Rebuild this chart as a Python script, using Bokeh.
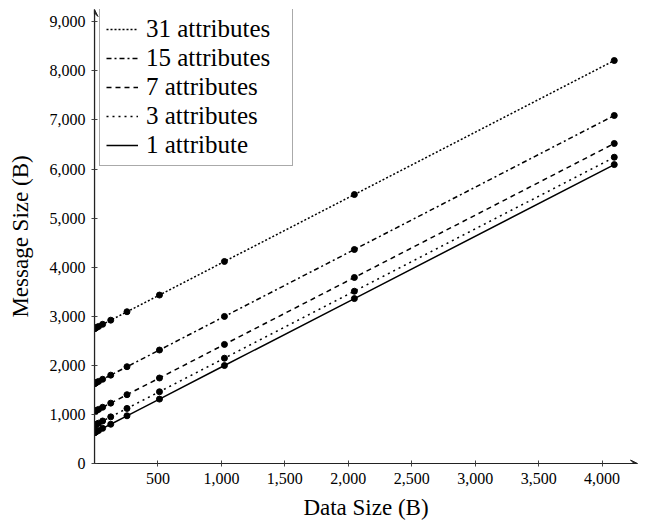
from bokeh.plotting import figure
from bokeh.embed import file_html
from bokeh.resources import INLINE
from bokeh.models import (Range1d, Legend, LegendItem, Arrow, VeeHead,
                          NumeralTickFormatter, FixedTicker)

data_size = [1, 2, 4, 8, 16, 32, 64, 128, 256, 512, 1024, 2048, 4096]
attr_31 = [2750, 2752, 2754, 2760, 2772, 2792, 2836, 2920, 3092, 3432, 4116, 5480, 8210]
attr_15 = [1630, 1632, 1634, 1640, 1652, 1672, 1716, 1800, 1972, 2312, 2996, 4360, 7090]
attr_7 = [1060, 1062, 1064, 1070, 1082, 1102, 1146, 1230, 1402, 1742, 2426, 3790, 6520]
attr_3 = [780, 782, 784, 790, 802, 822, 866, 950, 1122, 1462, 2146, 3510, 6240]
attr_1 = [630, 632, 634, 640, 652, 672, 716, 800, 972, 1312, 1996, 3360, 6090]

series_labels = ["31 attributes", "15 attributes", "7 attributes", "3 attributes", "1 attribute"]
series_values = [attr_31, attr_15, attr_7, attr_3, attr_1]
series_dash = ["2 2", "5 3 2 3", "5 4", "2 4", "solid"]

x_ticks = [500, 1000, 1500, 2000, 2500, 3000, 3500, 4000]
y_ticks = [0, 1000, 2000, 3000, 4000, 5000, 6000, 7000, 8000, 9000]

X_MAX = 4279
Y_MAX = 9250
FONT = "Liberation Serif"

p = figure(width=640, height=522, output_backend="svg", toolbar_location=None,
           x_range=Range1d(0, X_MAX), y_range=Range1d(0, Y_MAX),
           min_border_left=94, min_border_right=3, min_border_top=9,
           min_border_bottom=59)
p.outline_line_color = None
p.grid.visible = False
p.background_fill_color = "white"

for ax in (p.xaxis[0], p.yaxis[0]):
    ax.major_label_text_font = FONT
    ax.major_label_text_font_size = "16px"
    ax.major_label_text_color = "black"
    ax.axis_label_text_font = FONT
    ax.axis_label_text_font_size = "23px"
    ax.axis_label_text_font_style = "normal"
    ax.axis_label_text_color = "black"
    ax.axis_line_color = "#222222"
    ax.axis_line_width = 1.2
    ax.major_tick_line_color = "#444444"
    ax.major_tick_in = 3
    ax.major_tick_out = 3
    ax.minor_tick_line_color = None
    ax.formatter = NumeralTickFormatter(format="0,0")

p.xaxis.ticker = FixedTicker(ticks=x_ticks)
p.yaxis.ticker = FixedTicker(ticks=y_ticks)
p.xaxis.axis_label = "Data Size (B)"
p.yaxis.axis_label = "Message Size (B)"
p.xaxis.major_label_standoff = 6
p.yaxis.major_label_standoff = 6
p.xaxis.axis_label_standoff = 8
p.yaxis.axis_label_standoff = 14

items = []
for label, vals, dash in zip(series_labels, series_values, series_dash):
    r = p.line(data_size, vals, line_color="black", line_width=1.5, line_dash=dash)
    p.scatter(data_size, vals, size=6, color="black")
    items.append(LegendItem(label=label, renderers=[r]))

p.add_layout(Arrow(end=VeeHead(size=7, line_color="#222222", fill_color="#222222", line_width=1),
                   x_start=0, y_start=0, x_end=X_MAX, y_end=0,
                   line_color="#222222", line_width=1.2))
p.add_layout(Arrow(end=VeeHead(size=7, line_color="#222222", fill_color="#222222", line_width=1),
                   x_start=0, y_start=0, x_end=0, y_end=Y_MAX,
                   line_color="#222222", line_width=1.2))

legend = Legend(items=items, location=(5, 297), margin=0, padding=6, spacing=1,
                label_text_font=FONT, label_text_font_size="25px",
                label_text_color="black", glyph_width=32, label_standoff=8,
                label_width=140,
                border_line_color="#555555", border_line_width=1.5,
                background_fill_alpha=1)
p.add_layout(legend)

open("out.html", "w").write(file_html(p, INLINE))
